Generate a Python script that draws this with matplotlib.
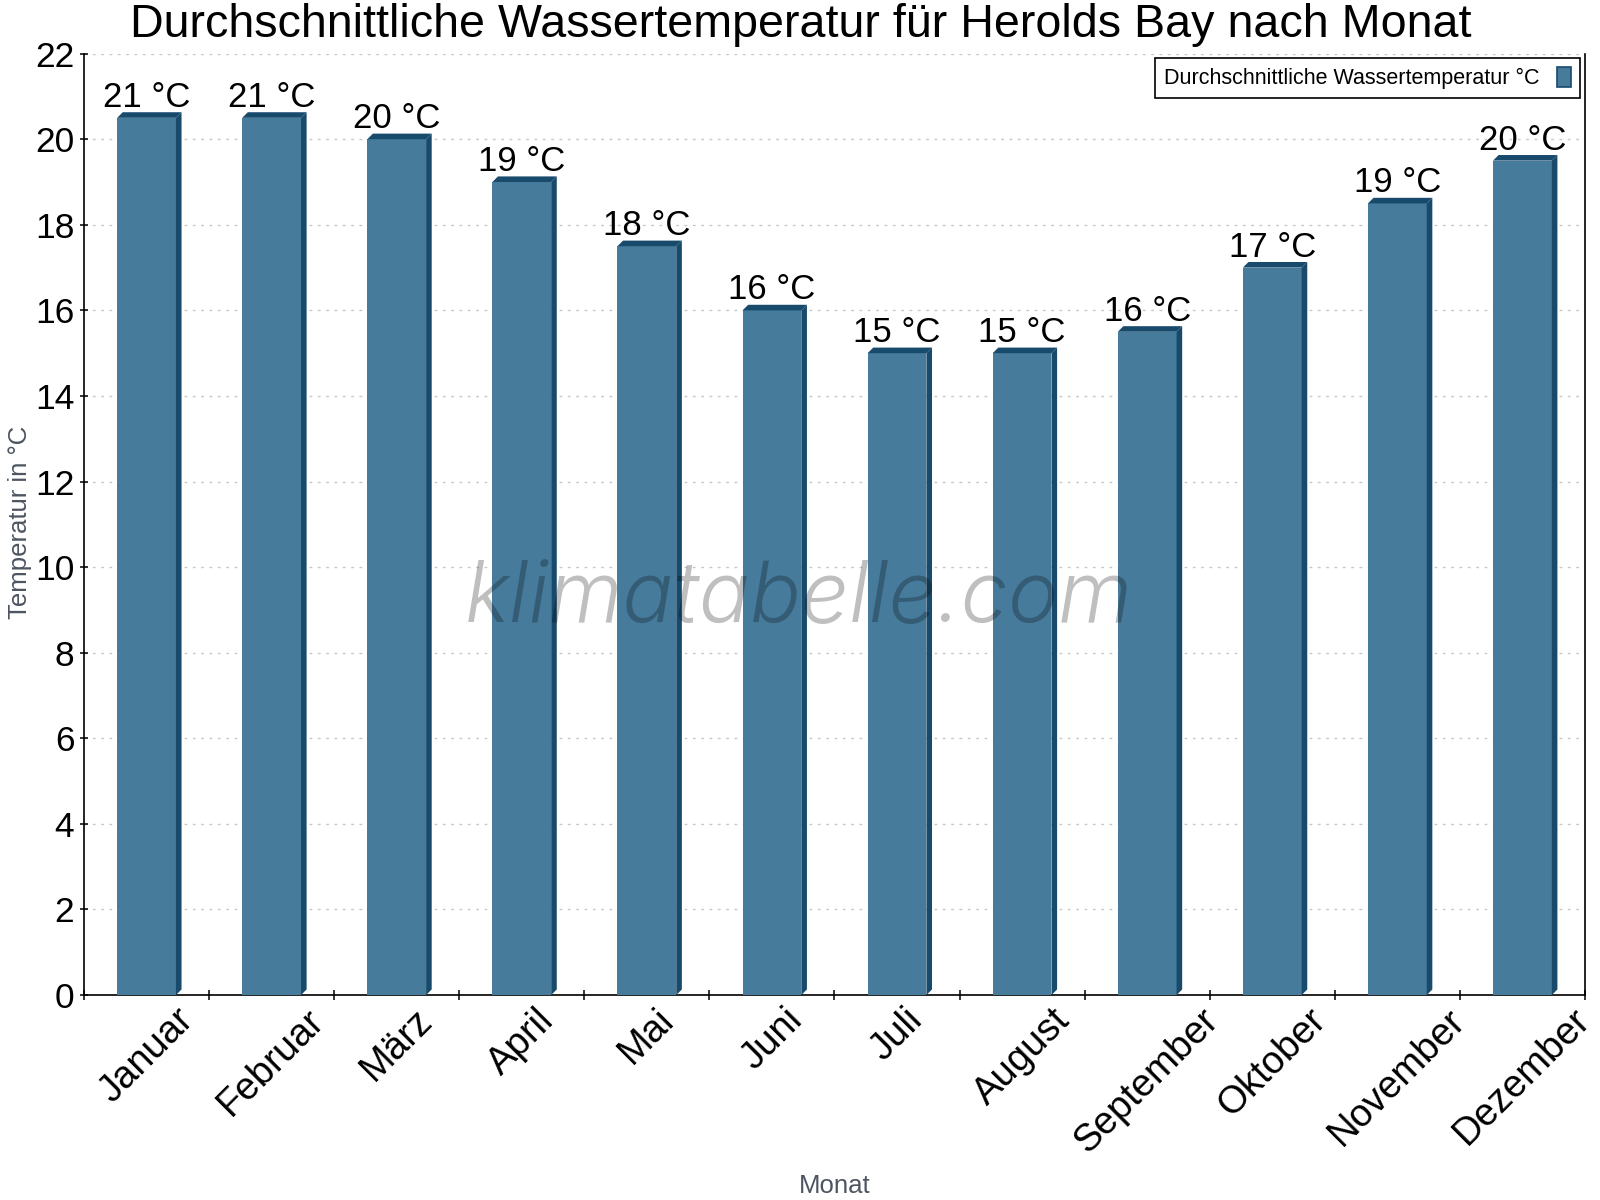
import matplotlib
matplotlib.use("Agg")
import matplotlib.pyplot as plt
from matplotlib.patches import Polygon, Patch
from matplotlib.ticker import FixedLocator, NullFormatter

months = ["Januar", "Februar", "März", "April", "Mai", "Juni", "Juli",
          "August", "September", "Oktober", "November", "Dezember"]
water_temp = [20.5, 20.5, 20.0, 19.0, 17.5, 16.0, 15.0, 15.0, 15.5, 17.0, 18.5, 19.5]
bar_labels = ["21 °C", "21 °C", "20 °C", "19 °C", "18 °C", "16 °C", "15 °C",
              "15 °C", "16 °C", "17 °C", "19 °C", "20 °C"]
y_ticks = [0, 2, 4, 6, 8, 10, 12, 14, 16, 18, 20, 22]

title = "Durchschnittliche Wassertemperatur für Herolds Bay nach Monat"
legend_label = "Durchschnittliche Wassertemperatur °C"
y_label = "Temperatur in °C"
x_label = "Monat"
watermark = "klimatabelle.com"

FACE = "#467b9c"
DARK = "#184a6c"

plt.rcParams["font.family"] = ["Liberation Sans", "DejaVu Sans"]

fig = plt.figure(figsize=(16, 12), dpi=100)
ax = fig.add_axes([0.0525, 0.1708, 0.9381, 0.7845])

n = len(months)
ax.set_xlim(-0.5, n - 0.5)
ax.set_ylim(0, 22)

# pixel -> data conversions for the 3D depth
ax_w_px = 0.9381 * 1600
ax_h_px = 0.7845 * 1200
dx = 5.6 * n / ax_w_px
dy = 5.6 * 22 / ax_h_px
half = 0.235

for i, v in enumerate(water_temp):
    x0, x1 = i - half, i + half
    ax.add_patch(Polygon([(x0, 0), (x1, 0), (x1, v), (x0, v)], closed=True,
                         facecolor=FACE, edgecolor="none", zorder=3))
    ax.add_patch(Polygon([(x1, 0), (x1 + dx, dy), (x1 + dx, v + dy), (x1, v)],
                         closed=True, facecolor=DARK, edgecolor="none", zorder=3))
    ax.add_patch(Polygon([(x0, v), (x0 + dx, v + dy), (x1 + dx, v + dy), (x1, v)],
                         closed=True, facecolor=DARK, edgecolor="none", zorder=3))
    ax.annotate(bar_labels[i], xy=(i, v), xytext=(0, 11), textcoords="offset pixels",
                ha="center", va="baseline", fontsize=25, color="black", zorder=5)

# grid
ax.set_yticks(y_ticks)
ax.yaxis.grid(True, color="#c8c8c8", linestyle=(0, (2, 4)), linewidth=1.0, zorder=0)
ax.set_axisbelow(True)

# ticks
ax.set_xticks(range(n))
ax.set_xticklabels(months, rotation=45, ha="center", va="top", fontsize=27.5)
ax.tick_params(axis="x", which="major", length=0, pad=5)
ax.xaxis.set_minor_locator(FixedLocator([i - 0.5 for i in range(n + 1)]))
ax.xaxis.set_minor_formatter(NullFormatter())
ax.tick_params(axis="x", which="minor", direction="inout", length=7, width=1.1, color="black")
ax.tick_params(axis="y", direction="inout", length=6, width=1.1, labelsize=25.5, pad=4)

for side in ["left", "bottom", "right"]:
    ax.spines[side].set_color("black")
    ax.spines[side].set_linewidth(1.2)
ax.spines["top"].set_visible(False)

# labels
fig.text(20 / 1600, 1 - 522 / 1200, y_label, rotation=90, ha="center", va="center",
         fontsize=18.5, color="#4d5560")
fig.text(835 / 1600, 1 - 1193 / 1200, x_label, ha="center", va="baseline",
         fontsize=18.5, color="#4d5560")
fig.text(801 / 1600, 1 - 37 / 1200, title, ha="center", va="baseline",
         fontsize=33.6, color="black")

# watermark
ax.text(0.4765, 0.42, watermark, transform=ax.transAxes, ha="center", va="center",
        fontsize=61, family=["Inter", "Roboto", "DejaVu Sans"], style="italic", weight=300,
        color="black", alpha=0.25, zorder=6)

# legend
handle = Patch(facecolor=FACE, edgecolor=DARK, linewidth=1.2)
leg = ax.legend([handle], [legend_label], loc="upper right", markerfirst=False,
                fontsize=15.5, frameon=True, fancybox=False, framealpha=1,
                edgecolor="black", borderaxespad=0.22, handlelength=0.65,
                handleheight=1.0, handletextpad=0.8, borderpad=0.42)
leg.get_frame().set_linewidth(1.2)

fig.savefig("out.png", dpi=100, facecolor="white")
